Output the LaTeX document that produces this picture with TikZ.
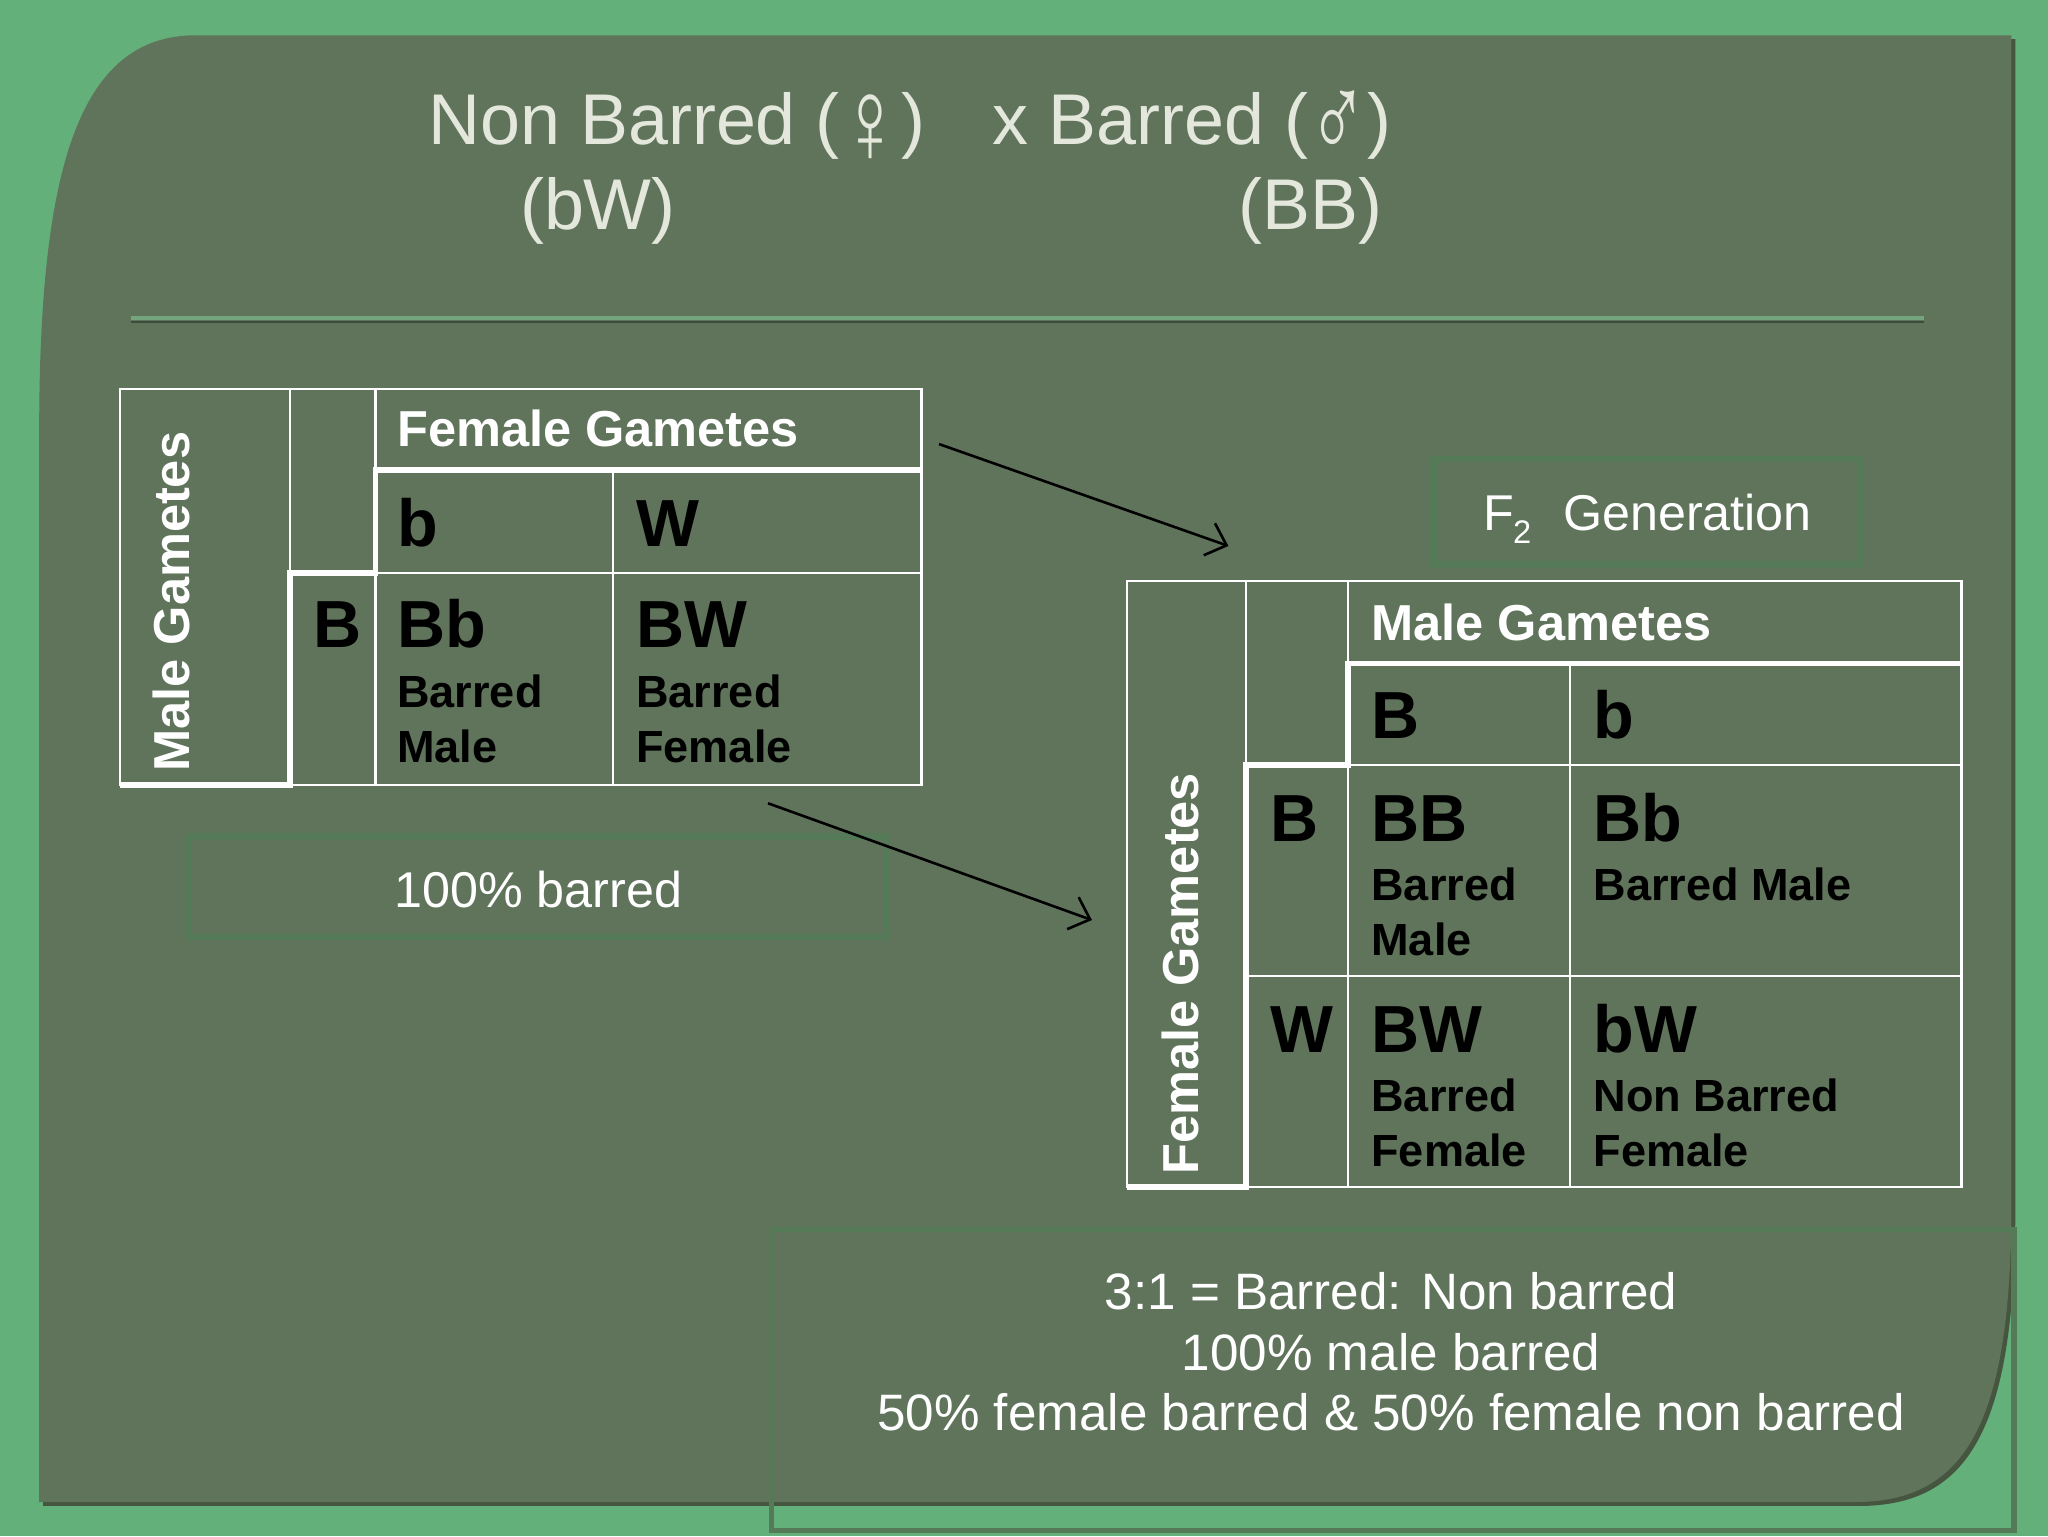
\documentclass[tikz,border=0pt]{standalone}
\usepackage{fontspec}
\setmainfont{Liberation Sans}
\usetikzlibrary{arrows.meta}
\definecolor{outerg}{HTML}{64B07A}
\definecolor{panelg}{HTML}{5F745B}
\definecolor{panelsh}{HTML}{46553F}
\definecolor{boxg}{HTML}{557A57}
\definecolor{titlec}{HTML}{E4E8DC}
\definecolor{rulelight}{HTML}{74A57C}
\definecolor{ruledark}{HTML}{3D4D3B}
\newcommand{\femsym}{\raisebox{-14pt}{\scalebox{1.15}[1.7]{♀}}}
\newcommand{\malsym}{\raisebox{-11pt}{\scalebox{1.1}[1.7]{♂}}}
\begin{document}
\begin{tikzpicture}[x=1pt,y=-1pt,
  gridthin/.style={draw=white, line width=1.8},
  gridthick/.style={draw=white, line width=4.5, line join=miter},
  hdr/.style={anchor=base west, inner sep=0, text=white, font=\bfseries\fontsize{38.7}{40}\selectfont},
  big/.style={anchor=base west, inner sep=0, text=black, font=\bfseries\fontsize{51}{51}\selectfont},
  lbl/.style={anchor=base west, inner sep=0, text=black, font=\bfseries\fontsize{34.5}{35}\selectfont},
  ttl/.style={anchor=base west, inner sep=0, text=titlec, font=\fontsize{55}{55}\selectfont},
  note/.style={anchor=base, inner sep=0, text=white, font=\fontsize{39.2}{40}\selectfont},
  framebox/.style={draw=boxg, line width=5},
  arr/.style={draw=black, line width=2, -{Straight Barb[length=14, width=26, line width=2]}}]

% background
\useasboundingbox (0,0) rectangle (1568,1176);
\fill[outerg] (0,0) rectangle (1568,1176);

% panel with shadow
\fill[panelsh] (33,1153) -- (33,333) .. controls (33,133) and (63,30) .. (153,30) -- (1543,30)
  -- (1543,923) .. controls (1543,1093) and (1508,1153) .. (1423,1153) -- cycle;
\fill[panelg] (30,1150) -- (30,330) .. controls (30,130) and (60,27) .. (150,27) -- (1540,27)
  -- (1540,920) .. controls (1540,1090) and (1505,1150) .. (1420,1150) -- cycle;

% title
\node[ttl] (t1) at (328,111) {Non Barred (\femsym)};
\node[ttl] (t2) at (760,111) {x Barred (\malsym)};
\node[ttl] (t3) at (398,176) {(bW)};
\node[ttl] (t4) at (948,176) {(BB)};

% rule
\draw[rulelight, line width=3] (100,243.5) -- (1473,243.5);
\draw[ruledark, line width=2] (100,246.5) -- (1473,246.5);

% ---------- left table ----------
\draw[gridthin] (92,298) rectangle (705.5,601);
\draw[gridthin] (222,298) -- (222,438.5);
\draw[gridthin] (287.5,298) -- (287.5,360);
\draw[gridthin] (287.5,438.5) -- (287.5,601);
\draw[gridthin] (469.5,360) -- (469.5,601);
\draw[gridthin] (287.5,438.5) -- (705.5,438.5);
\draw[gridthick] (705.5,360) -- (287.5,360) -- (287.5,438.5) -- (222,438.5) -- (222,601) -- (92,601);

\node[hdr] (lhdr) at (304,342) {Female Gametes};
\node[hdr, rotate=90] (lvert) at (145,591) {Male Gametes};
\node[big] (lb) at (304,418.6) {b};
\node[big] (lw) at (487,418.6) {W};
\node[big] (lB) at (239.7,496) {B};
\node[big] (lBb) at (304,496) {Bb};
\node[big] (lBW) at (487,496) {BW};
\node[lbl] (lBb1) at (304,542) {Barred};
\node[lbl] (lBb2) at (304,584) {Male};
\node[lbl] (lBW1) at (487,542) {Barred};
\node[lbl] (lBW2) at (487,584) {Female};

% 100% barred box
\draw[framebox] (144.7,640.5) rectangle (678.8,717.3);
\node[note, font=\fontsize{38.5}{39}\selectfont] (pct) at (412,694.7) {100\% barred};

% F2 box
\draw[framebox] (1097.5,351.5) rectangle (1424,432);
\node[anchor=base west, inner sep=0, text=white, font=\fontsize{38.5}{39}\selectfont] (f2F) at (1135.8,406.3) {F};
\node[anchor=base west, inner sep=0, text=white, font=\fontsize{25}{25}\selectfont] (f2s) at (1158.2,416) {2};
\node[anchor=base west, inner sep=0, text=white, font=\fontsize{38.5}{39}\selectfont] (f2G) at (1196.5,406.3) {Generation};

% ---------- right table ----------
\draw[gridthin] (862.6,445) rectangle (1501.7,908.7);
\draw[gridthin] (953.8,445) -- (953.8,585.7);
\draw[gridthin] (1032,445) -- (1032,508);
\draw[gridthin] (1032,585.7) -- (1032,908.7);
\draw[gridthin] (1202,508) -- (1202,908.7);
\draw[gridthin] (1032,585.7) -- (1501.7,585.7);
\draw[gridthin] (953.8,747.2) -- (1501.7,747.2);
\draw[gridthick] (1501.7,508) -- (1032,508) -- (1032,585.7) -- (953.8,585.7) -- (953.8,908.7) -- (862.6,908.7);

\node[hdr] (rhdr) at (1049.8,490.3) {Male Gametes};
\node[hdr, rotate=90] (rvert) at (917.5,899.5) {Female Gametes};
\node[big] (rcB) at (1049.8,565.6) {B};
\node[big] (rcb) at (1219.9,565.6) {b};
\node[big] (rrB) at (972.5,644.1) {B};
\node[big] (rBB) at (1049.8,644.1) {BB};
\node[big] (rBb) at (1219.9,644.1) {Bb};
\node[lbl] (rBB1) at (1049.8,689.3) {Barred};
\node[lbl] (rBB2) at (1049.8,731.2) {Male};
\node[lbl] (rBb1) at (1219.9,689.3) {Barred Male};
\node[big] (rrW) at (972.5,805.6) {W};
\node[big] (rBW) at (1049.8,805.6) {BW};
\node[big] (rbW) at (1219.9,805.6) {bW};
\node[lbl] (rBW1) at (1049.8,851.1) {Barred};
\node[lbl] (rBW2) at (1049.8,893.3) {Female};
\node[lbl] (rbW1) at (1219.9,851.1) {Non Barred};
\node[lbl] (rbW2) at (1219.9,893.3) {Female};

% arrows
\coordinate (a1s) at (719,340);
\coordinate (a1e) at (940.5,418);
\coordinate (a2s) at (588,615);
\coordinate (a2e) at (836,704.4);
\draw[arr] (a1s) -- (a1e);
\draw[arr] (a2s) -- (a2e);

% bottom box
\draw[boxg, line width=4] (590.4,941.3) rectangle (1542,1172);
\node[note] (s1) at (1065,1002.6) {3:1 = Barred: Non barred};
\node[note] (s2) at (1065,1049.5) {100\% male barred};
\node[note] (s3) at (1065,1095.5) {50\% female barred \& 50\% female non barred};
\end{tikzpicture}
\end{document}
